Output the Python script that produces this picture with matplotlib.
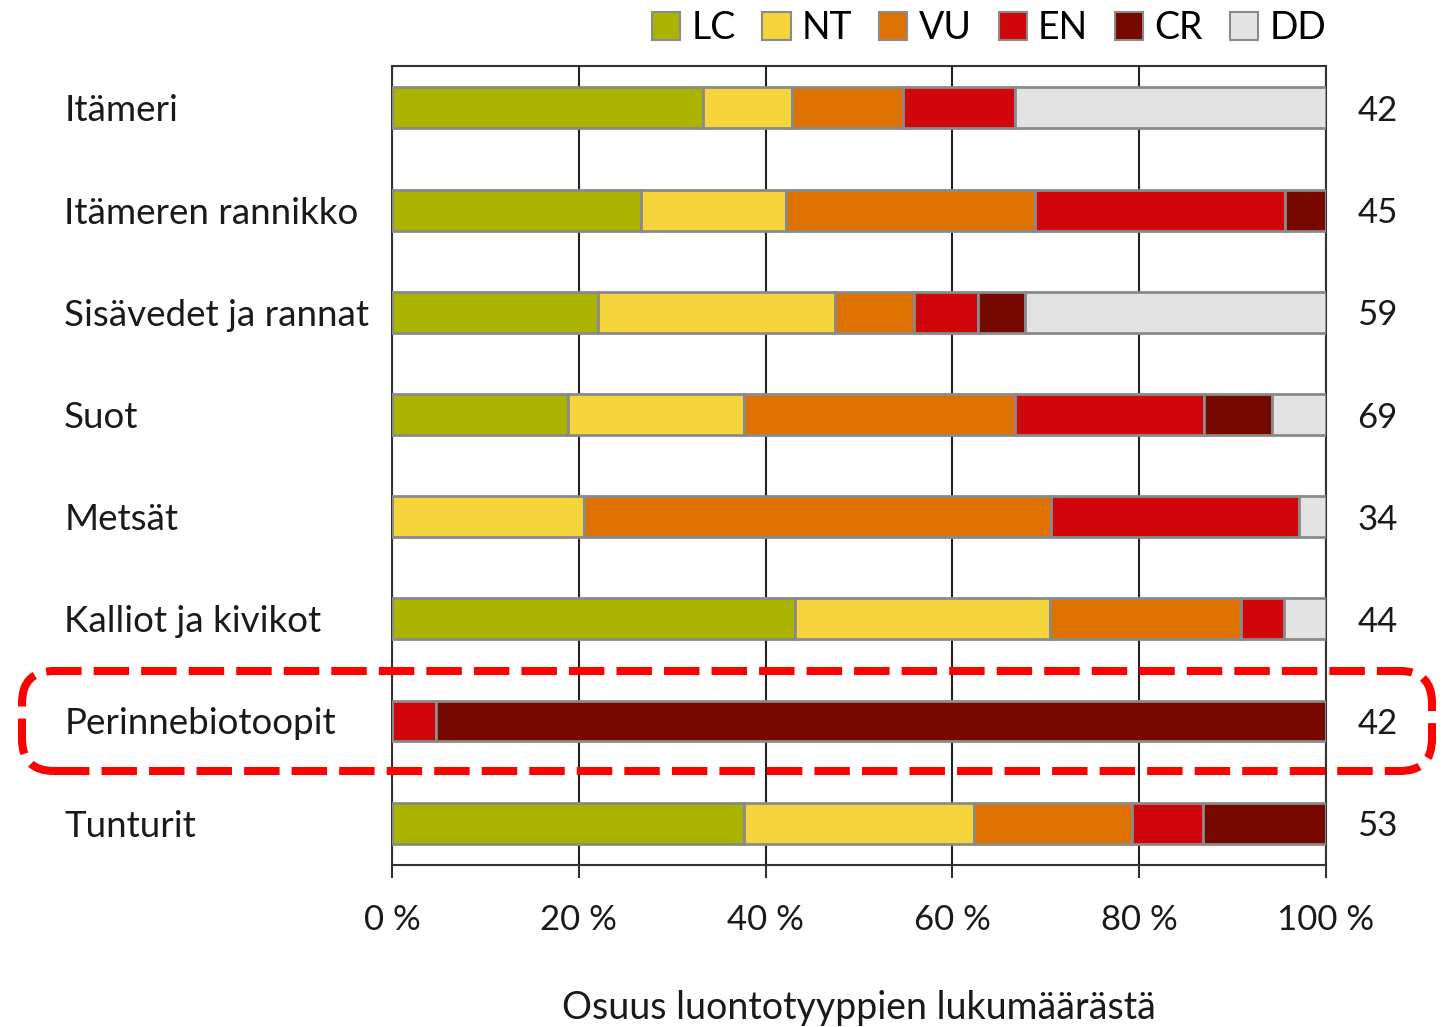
import numpy as np
import matplotlib.pyplot as plt
from matplotlib.patches import FancyBboxPatch, Patch

plt.rcParams['font.family'] = ['Lato', 'DejaVu Sans']

categories = ['Itämeri', 'Itämeren rannikko', 'Sisävedet ja rannat', 'Suot',
              'Metsät', 'Kalliot ja kivikot', 'Perinnebiotoopit', 'Tunturit']
classes = ['LC', 'NT', 'VU', 'EN', 'CR', 'DD']
colors = ['#aab400', '#f5d43c', '#dd7200', '#d0060c', '#760800', '#e3e3e3']

# lukumäärät luokittain
LC = [14, 12, 13, 13, 0, 19, 0, 20]
NT = [4, 7, 15, 13, 7, 12, 0, 13]
VU = [5, 12, 5, 20, 17, 9, 0, 9]
EN = [5, 12, 4, 14, 9, 2, 2, 4]
CR = [0, 2, 3, 5, 0, 0, 40, 7]
DD = [14, 0, 19, 4, 1, 2, 0, 0]

counts = np.array([LC, NT, VU, EN, CR, DD], dtype=float)
totals = counts.sum(axis=0)
shares = counts / totals * 100

fig = plt.figure(figsize=(14.47, 10.27), dpi=100)
ax = fig.add_axes([0.2709, 0.1577, 0.6455, 0.778])

y = np.arange(len(categories))
left = np.zeros(len(categories))
for i, cls in enumerate(classes):
    ax.barh(y, shares[i], left=left, height=0.40, color=colors[i],
            edgecolor='#8a8a8a', linewidth=2, zorder=3)
    left += shares[i]

ax.set_xlim(0, 100)
ax.set_ylim(len(categories) - 1 + 0.41, -0.41)
ax.set_xticks(np.arange(0, 101, 20))
ax.set_xticklabels([f'{v} %' for v in range(0, 101, 20)], fontsize=25, color='#1a1a1a')
ax.set_yticks(y)
ax.set_yticklabels(categories, fontsize=26.5, color='#1a1a1a', ha='left')
ax.tick_params(axis='y', length=0, pad=236)
ax.tick_params(axis='x', length=9, width=1.5, color='#333333', pad=19, direction='out')
ax.grid(axis='x', color='#222222', linewidth=1.5, zorder=0)
for s in ax.spines.values():
    s.set_color('#333333')
    s.set_linewidth(1.5)

ax.set_xlabel('Osuus luontotyyppien lukumäärästä', fontsize=27, color='#1a1a1a', labelpad=39)

for yi, n in zip(y, totals):
    ax.text(105.5, yi + 0.03, f'{int(n)}', fontsize=25, color='#1a1a1a', va='center', ha='center')

handles = [Patch(facecolor=c, edgecolor='#8a8a8a', linewidth=1.5) for c in colors]
ax.legend(handles, classes, ncol=6, loc='lower right', bbox_to_anchor=(1.0, 1.025),
          frameon=False, fontsize=27, handlelength=0.75, handleheight=0.8,
          handletextpad=0.3, columnspacing=0.72, borderaxespad=0, borderpad=0)

box = FancyBboxPatch((0.22, 2.56), 14.1, 1.0,
                     boxstyle='round,pad=0,rounding_size=0.32',
                     transform=fig.dpi_scale_trans, fill=False,
                     edgecolor='#ff0000', linewidth=5.8,
                     linestyle=(0, (4.4, 1.5)), zorder=10, clip_on=False)
fig.patches.append(box)

plt.savefig('out.png', dpi=100)
